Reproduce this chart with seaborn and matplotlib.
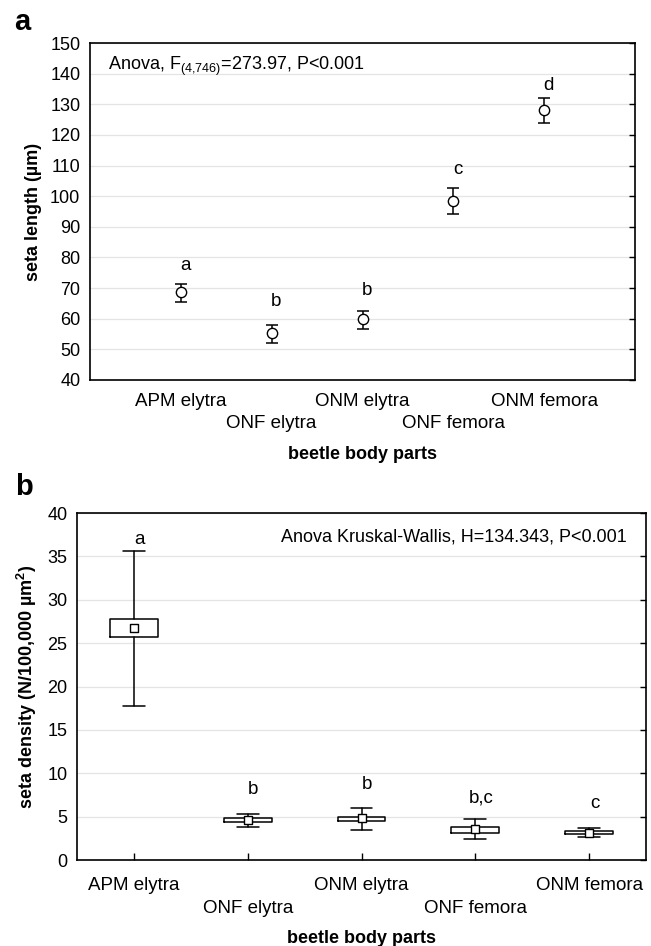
import numpy as np
import pandas as pd
import matplotlib
matplotlib.use("Agg")
import matplotlib.pyplot as plt
import seaborn as sns

# ---------------- data ----------------
categories = ["APM elytra", "ONF elytra", "ONM elytra", "ONF femora", "ONM femora"]

# panel a: seta length (mean and error limits)
len_mean = [68.7, 55.2, 59.8, 98.4, 128.2]
len_low = [65.4, 52.1, 56.8, 94.2, 123.9]
len_high = [71.2, 57.9, 62.4, 102.6, 132.2]
len_letters = ["a", "b", "b", "c", "d"]
len_letter_y = [77.3, 65.7, 69.2, 108.8, 136.0]

# panel b: seta density (median, quartiles, range)
dens_median = [26.7, 4.6, 4.8, 3.55, 3.15]
dens_q1 = [25.65, 4.37, 4.45, 3.17, 2.95]
dens_q3 = [27.8, 4.8, 4.99, 3.84, 3.34]
dens_min = [17.8, 3.85, 3.46, 2.38, 2.6]
dens_max = [35.65, 5.3, 5.95, 4.73, 3.73]
dens_letters = ["a", "b", "b", "b,c", "c"]
dens_letter_y = [37.0, 8.07, 8.65, 7.2, 6.55]

len_ticks = list(range(40, 151, 10))
dens_ticks = list(range(0, 41, 5))

# ---------------- style ----------------
sns.set_style("white")
plt.rcParams["font.family"] = ["Liberation Sans", "DejaVu Sans"]
plt.rcParams["mathtext.fontset"] = "custom"
plt.rcParams["mathtext.rm"] = "Liberation Sans"
plt.rcParams["text.color"] = "black"
plt.rcParams["axes.labelcolor"] = "black"
plt.rcParams["xtick.color"] = "black"
plt.rcParams["ytick.color"] = "black"

XT_FS = 13.5
YT_FS = 13
LAB_FS = 13
ANN_FS = 13
GRID_C = "#e4e4e4"

fig = plt.figure(figsize=(6.51, 9.46), dpi=100)
axA = fig.add_axes([90 / 651, 1 - 380 / 946, 545 / 651, 337 / 946])
axB = fig.add_axes([77 / 651, 1 - 860 / 946, 569 / 651, 347 / 946])

pos = np.arange(len(categories))
even_pos = [int(p) for p in pos if p % 2 == 0]
odd_pos = [int(p) for p in pos if p % 2 == 1]
even_lab = [categories[p] for p in even_pos]
odd_lab = [categories[p] for p in odd_pos]

dfA = pd.DataFrame({"part": categories, "x": pos,
                    "mean": len_mean, "low": len_low, "high": len_high})
dfB = pd.DataFrame({"part": categories, "x": pos,
                    "med": dens_median, "q1": dens_q1, "q3": dens_q3,
                    "lo": dens_min, "hi": dens_max})


def staggered_xticks(ax, pad_major, row_gap, show_ticks):
    ax.set_xticks(even_pos)
    ax.set_xticklabels(even_lab, fontsize=XT_FS)
    ax.set_xticks(odd_pos, minor=True)
    ax.set_xticklabels(odd_lab, minor=True, fontsize=XT_FS)
    ax.tick_params(axis="x", which="major", bottom=show_ticks, direction="in",
                   length=5, width=1, pad=pad_major)
    ax.tick_params(axis="x", which="minor", bottom=show_ticks, direction="in",
                   length=5, width=1, pad=pad_major + row_gap)


# ---------------- panel a ----------------
ax = axA
ax.set_axisbelow(True)
ax.yaxis.grid(True, color=GRID_C, lw=0.9)
ax.errorbar(dfA["x"], dfA["mean"],
            yerr=[dfA["mean"] - dfA["low"], dfA["high"] - dfA["mean"]],
            fmt="none", ecolor="black", elinewidth=1.1, capsize=4.5, capthick=1.1, zorder=2)
sns.scatterplot(data=dfA, x="x", y="mean", ax=ax, marker="o", s=55,
                facecolor="white", edgecolor="black", linewidth=1.0, zorder=3)
for i, (lt, ly) in enumerate(zip(len_letters, len_letter_y)):
    ax.text(i + 0.05, ly, lt, ha="center", va="center", fontsize=XT_FS)
ax.text(0.033, 0.93, r"Anova, F$\mathregular{_{(4{,}746)}}$=273.97, P<0.001",
        transform=ax.transAxes, ha="left", va="center", fontsize=ANN_FS)
ax.set_xlim(-1, 5)
ax.set_ylim(40, 150)
ax.set_yticks(len_ticks)
staggered_xticks(ax, 9, 16.5, False)
ax.tick_params(axis="y", left=False, right=True, direction="in", length=4,
               width=1, labelsize=YT_FS, pad=7)
ax.set_xlabel("beetle body parts", fontsize=LAB_FS, fontweight="bold", labelpad=10)
ax.set_ylabel("seta length (µm)", fontsize=LAB_FS, fontweight="bold", labelpad=6)
for s in ax.spines.values():
    s.set_color("black"); s.set_linewidth(1.2)

# ---------------- panel b ----------------
ax = axB
ax.set_axisbelow(True)
ax.yaxis.grid(True, color=GRID_C, lw=0.9)
stats = []
for _, r in dfB.iterrows():
    stats.append(dict(med=r["med"], q1=r["q1"], q3=r["q3"],
                      whislo=r["lo"], whishi=r["hi"], label=r["part"]))
ax.bxp(stats, positions=dfB["x"], widths=0.42, showfliers=False,
       boxprops=dict(color="black", lw=1.1),
       whiskerprops=dict(color="black", lw=1.1),
       capprops=dict(color="black", lw=1.1),
       medianprops=dict(visible=False), capwidths=0.19, manage_ticks=False)
sns.scatterplot(data=dfB, x="x", y="med", ax=ax, marker="s", s=30,
                facecolor="white", edgecolor="black", linewidth=1.0, zorder=4)
for i, (lt, ly) in enumerate(zip(dens_letters, dens_letter_y)):
    ax.text(i + 0.05, ly, lt, ha="center", va="center", fontsize=XT_FS)
ax.text(0.967, 0.93, "Anova Kruskal-Wallis, H=134.343, P<0.001",
        transform=ax.transAxes, ha="right", va="center", fontsize=ANN_FS)
ax.set_xlim(-0.5, 4.5)
ax.set_ylim(0, 40)
ax.set_yticks(dens_ticks)
staggered_xticks(ax, 12, 16.5, True)
ax.tick_params(axis="y", which="both", left=False, right=True, direction="in", length=4,
               width=1, labelsize=YT_FS, pad=7)
ax.set_xlabel("beetle body parts", fontsize=LAB_FS, fontweight="bold", labelpad=10)
ax.set_ylabel(r"seta density (N/100,000 µm$\mathregular{^{2}}$)", fontsize=LAB_FS,
              fontweight="bold", labelpad=6)
for s in ax.spines.values():
    s.set_color("black"); s.set_linewidth(1.2)

# panel letters
fig.text(22 / 651, 1 - 22 / 946, "a", fontsize=21, fontweight="bold", ha="center", va="center")
fig.text(24 / 651, 1 - 487 / 946, "b", fontsize=21, fontweight="bold", ha="center", va="center")

fig.savefig("out.png", dpi=100)
